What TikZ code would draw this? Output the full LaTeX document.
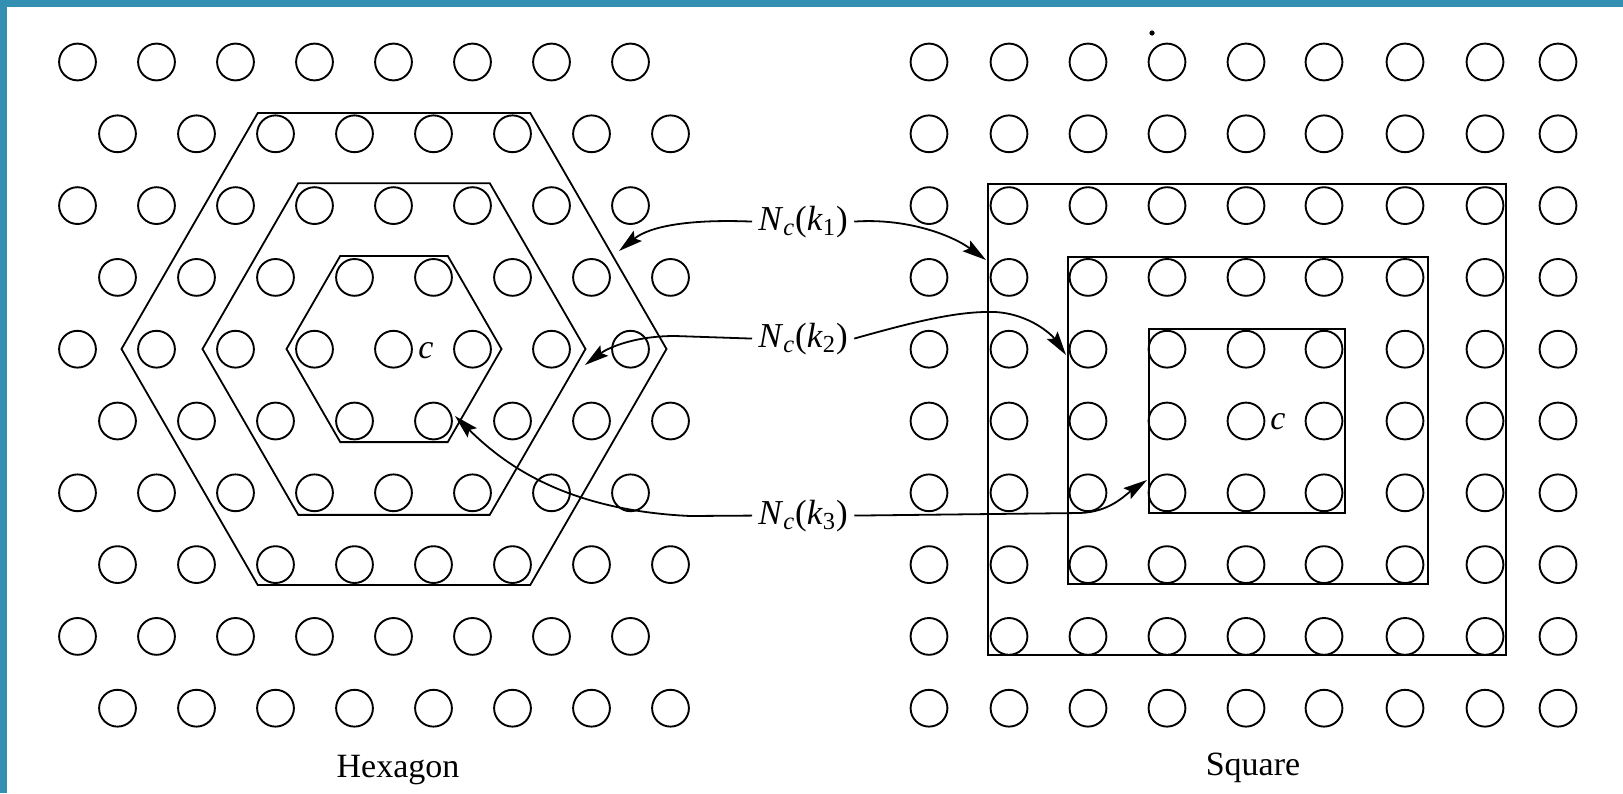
\documentclass[tikz,border=0pt]{standalone}
\usepackage{fontspec}
\setmainfont{Liberation Serif}
\usetikzlibrary{arrows.meta,calc}
\definecolor{framebl}{RGB}{51,144,178}
\newcommand\NcLab[1]{\textit{N}\textsubscript{\textit{c}}(\textit{k}\textsubscript{#1})}
\begin{document}
\begin{tikzpicture}[x=0.5pt,y=-0.5pt]
\tikzset{
  site/.style={line width=0.95pt},
  region/.style={line width=0.9pt},
  conn/.style={line width=0.9pt,-{Stealth[length=12pt,width=6.5pt,inset=2pt]}},
  lab/.style={font=\fontsize{17.5}{20}\selectfont,inner xsep=3pt,inner ysep=1pt,anchor=base west},
  clab/.style={font=\fontsize{17}{20}\selectfont,inner sep=0pt},
  captxt/.style={font=\fontsize{17}{20}\selectfont,anchor=base}
}
\useasboundingbox (0,0) rectangle (1623,793);
\fill[white] (0,0) rectangle (1623,793);
% frame
\fill[framebl] (0,0) rectangle (1623,7);
\fill[framebl] (0,0) rectangle (7,793);

% hexagonal lattice
\foreach \i in {0,...,9}{
  \pgfmathsetmacro\off{77.5+40*mod(\i,2)}
  \foreach \j in {0,...,7}
    \draw[site] ({\off+79*\j},{62+71.8*\i}) circle[radius=9.2pt];
}
% square lattice
\foreach \x in {929,1009,1088,1167,1246,1324,1405,1485,1558}
  \foreach \i in {0,...,9}
    \draw[site] (\x,{62+71.8*\i}) circle[radius=9.2pt];

% hexagons
\coordinate (hc) at (394,349);
\foreach \R in {107.5,191.5,272.5}
  \draw[region] (hc) +(0:\R) -- +(60:\R) -- +(120:\R) -- +(180:\R) -- +(240:\R) -- +(300:\R) -- cycle;
% squares
\draw[region] (1149,329) rectangle (1345,513);
\draw[region] (1068,257) rectangle (1428,584);
\draw[region] (988,184) rectangle (1506,655);

% centre labels
\node[clab] (chex) at (426,351) {\textit{c}};
\node[clab] (csq) at (1278,422) {\textit{c}};

% stray speck
\fill (1152,33) circle[radius=1.3pt];

% neighbourhood labels
\node[lab] (k1) at (752,230) {\NcLab{1}};
\node[lab] (k2) at (752,347) {\NcLab{2}};
\node[lab] (k3) at (752,524) {\NcLab{3}};

% connectors
\draw[conn] (k1.west) .. controls (690,219) and (650,226) .. (619,251);
\draw[conn] (k1.east) .. controls (905,218) and (950,234) .. (986,260);
\draw[conn] (k2.west) -- (675,336) .. controls (630,336) and (605,350) .. (585,365);
\draw[conn] (k2.east) .. controls (920,320) and (960,311) .. (995,312)
  .. controls (1030,314) and (1052,335) .. (1066,355);
\draw[conn] (k3.west) -- (690,516) .. controls (560,510) and (500,460) .. (455,416);
\draw[conn] (k3.east) -- (1080,513) .. controls (1110,512) and (1125,495) .. (1147,480);

% captions
\node[captxt] (hexcap) at (398,777) {Hexagon};
\node[captxt] (sqcap) at (1253,775) {Square};
\end{tikzpicture}
\end{document}
